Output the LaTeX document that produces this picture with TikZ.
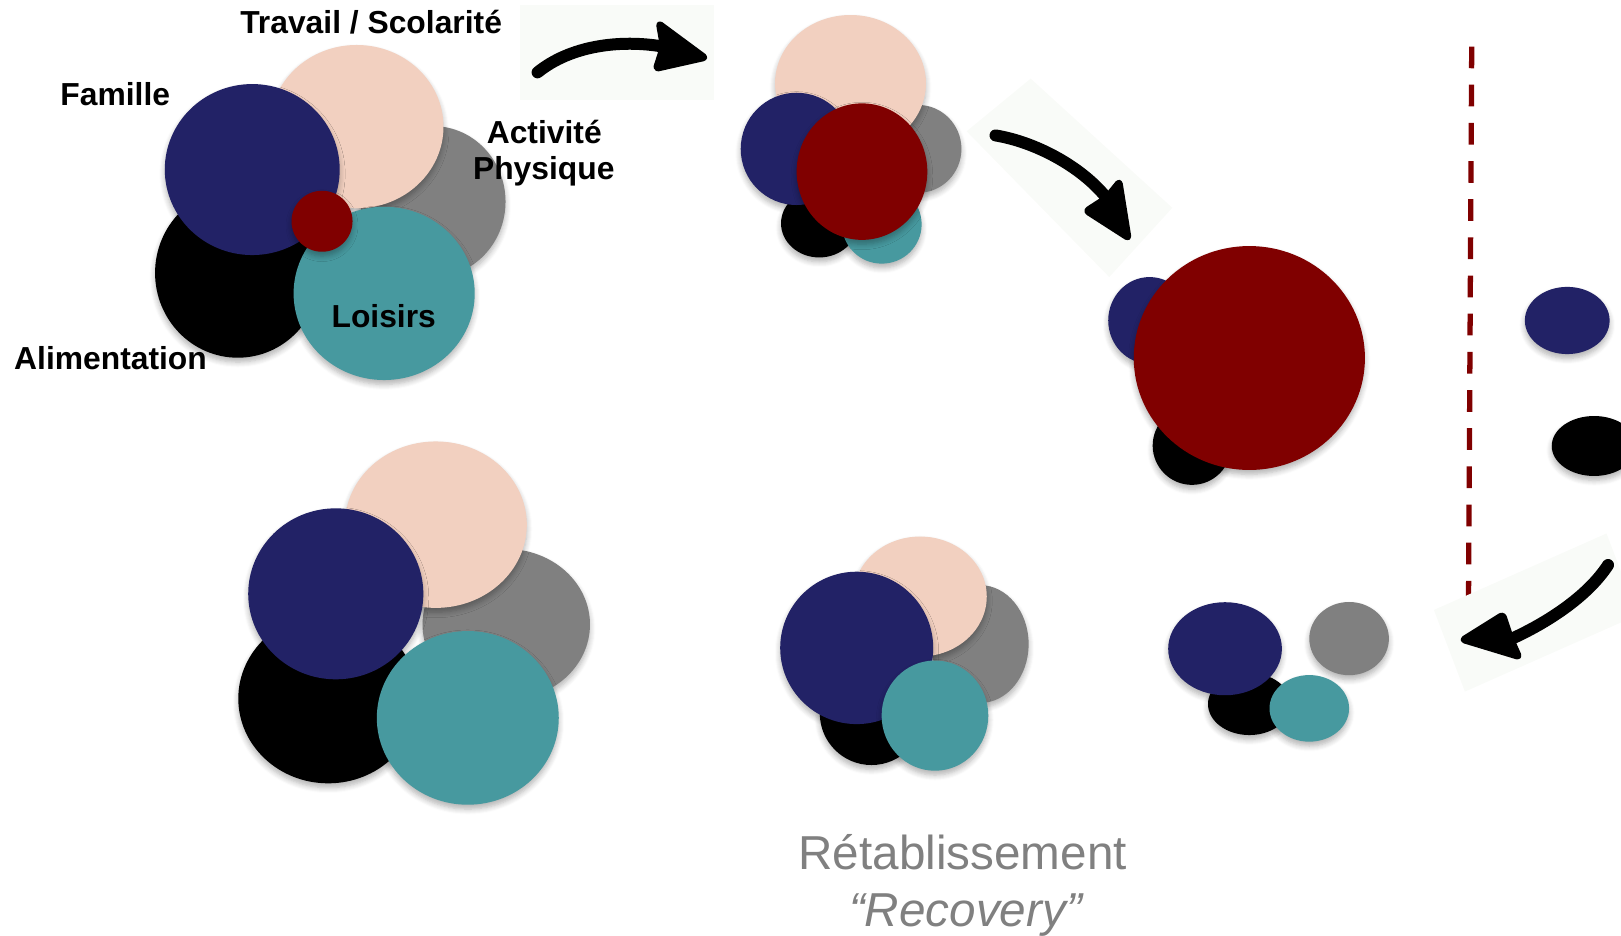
\documentclass[tikz,border=0pt]{standalone}
\usepackage{fontspec}
\setmainfont{Liberation Sans}
\usetikzlibrary{shadows.blur}
\definecolor{navy}{HTML}{222266}
\definecolor{peach}{HTML}{F2D0C0}
\definecolor{midgray}{HTML}{808080}
\definecolor{teal2}{HTML}{47999F}
\definecolor{darkred}{HTML}{800000}
\definecolor{faint}{HTML}{F9FBF8}
\definecolor{txtgray}{HTML}{808080}
\tikzset{
  blob/.style={blur shadow={shadow xshift=0pt, shadow yshift=-1.2pt, shadow blur radius=1.5pt, shadow opacity=30, shadow blur steps=6}},
  lab/.style={font=\fontsize{8.75}{10}\selectfont\bfseries, anchor=base, inner sep=0pt},
  shaft/.style={draw=black, line width=3.3pt, line cap=round},
  arrowhead/.style={fill=black, draw=black, line width=1.5pt, line join=round, rounded corners=0.03cm},
  backrect/.style={fill=faint},
  redsep/.style={draw=darkred, line width=1.45pt, dash pattern=on 0.21cm off 0.159cm},
  captiontxt/.style={font=\fontsize{13.1}{15}\selectfont, text=txtgray, anchor=base, inner sep=0pt},
}
\newcommand\drawblob[5]{\fill[#1, blob] (#2,#3) ellipse [x radius=#4, y radius=#5];}
\begin{document}
\begin{tikzpicture}[x=0.01cm, y=-0.01cm]
\useasboundingbox (0,0) rectangle (1568,905);

% faint backgrounds of arrows 1 and 2
\fill[backrect] (503,5) rectangle (691,97);
\fill[backrect] (935,127) -- (997,76) -- (1134,201) -- (1073,268) -- cycle;

% top-left cluster
\drawblob{midgray}{419}{195}{70}{73}
\drawblob{peach}{345}{122.5}{84}{79}
\drawblob{black}{230}{264}{80}{82}
\drawblob{navy}{244}{164}{84.6}{82.7}
\drawblob{teal2}{371.6}{283.8}{87.6}{83.8}
\drawblob{darkred}{311.5}{214}{29.5}{29.5}

% top-middle cluster
\drawblob{midgray}{888}{144}{42}{42.5}
\drawblob{peach}{822.7}{80.5}{73}{66}
\drawblob{black}{792.5}{216}{37}{33}
\drawblob{teal2}{853}{217}{38.5}{38}
\drawblob{navy}{770.5}{144}{54}{54.3}
\drawblob{darkred}{833.8}{166}{63.2}{66}

% right-middle cluster
\drawblob{navy}{1112}{310}{40}{42}
\drawblob{black}{1153}{431}{38}{38}
\drawblob{darkred}{1208.5}{346.3}{111.8}{108.3}

% right edge
\drawblob{navy}{1516}{310}{41}{32.5}
\drawblob{black}{1542}{431.4}{41}{29}

% bottom-left cluster
\drawblob{midgray}{489.7}{604}{81}{73}
\drawblob{peach}{421.6}{507.5}{88}{80.5}
\drawblob{black}{317.5}{675.7}{87}{82}
\drawblob{navy}{324.8}{574.4}{84.7}{82.7}
\drawblob{teal2}{452.5}{694.4}{88}{84}

% bottom-middle cluster
\drawblob{midgray}{948}{623}{47}{57}
\drawblob{peach}{890}{577}{64.5}{58}
\drawblob{black}{843}{690}{50}{50}
\drawblob{navy}{828.7}{626.7}{74}{73.7}
\drawblob{teal2}{904.4}{692.2}{51.6}{53.3}

% bottom-right cluster
\drawblob{midgray}{1305}{617.7}{38.5}{35.4}
\drawblob{black}{1208.5}{681}{40}{30}
\drawblob{navy}{1185}{627.5}{55}{45}
\drawblob{teal2}{1266.5}{685.2}{38.5}{32.2}

% dashed separator
\coordinate (septop) at (1423.6,45);
\coordinate (sepbot) at (1420.5,583);
\draw[redsep] (septop) -- (sepbot);

% faint background of arrow 3
\fill[backrect] (1387,590) -- (1554,516) -- (1584,595) -- (1417,669) -- cycle;

% arrow 1
\coordinate (a1s) at (520,70);
\coordinate (a1n) at (641,45);
\coordinate (a1u) at (637,22);
\coordinate (a1t) at (683,56);
\coordinate (a1d) at (634,67);
\draw[shaft] (a1s) .. controls (552,44) and (600,38) .. (a1n);
\filldraw[arrowhead] (a1u) -- (a1t) -- (a1d) -- (a1n) -- cycle;

% arrow 2
\coordinate (a2s) at (963,131);
\coordinate (a2n) at (1070,191);
\coordinate (a2u) at (1083,175);
\coordinate (a2t) at (1092,231);
\coordinate (a2d) at (1050,204);
\draw[shaft] (a2s) .. controls (1000,137) and (1045,160) .. (a2n);
\filldraw[arrowhead] (a2u) -- (a2t) -- (a2d) -- (a2n) -- cycle;

% arrow 3
\coordinate (a3s) at (1555.5,546.5);
\coordinate (a3n) at (1462,618);
\coordinate (a3u) at (1454,594);
\coordinate (a3t) at (1414,619);
\coordinate (a3d) at (1470,636);
\draw[shaft] (a3s) .. controls (1535,578) and (1495,603) .. (a3n);
\filldraw[arrowhead] (a3u) -- (a3t) -- (a3d) -- (a3n) -- cycle;

% labels
\node[lab] (trav) at (359,32.2) {Travail / Scolarité};
\node[lab] (fam) at (111.5,101.6) {Famille};
\node[lab] (act) at (526.5,138.7) {Activité};
\node[lab] (phys) at (526,174) {Physique};
\node[lab] (lois) at (371.2,316.6) {Loisirs};
\node[lab] (alim) at (106.9,357.3) {Alimentation};
\node[captiontxt] (retab) at (931.2,840.9) {Rétablissement};
\node[captiontxt, font=\fontsize{13.1}{15}\selectfont\itshape] (recov) at (934,896.4) {“Recovery”};
\end{tikzpicture}
\end{document}
